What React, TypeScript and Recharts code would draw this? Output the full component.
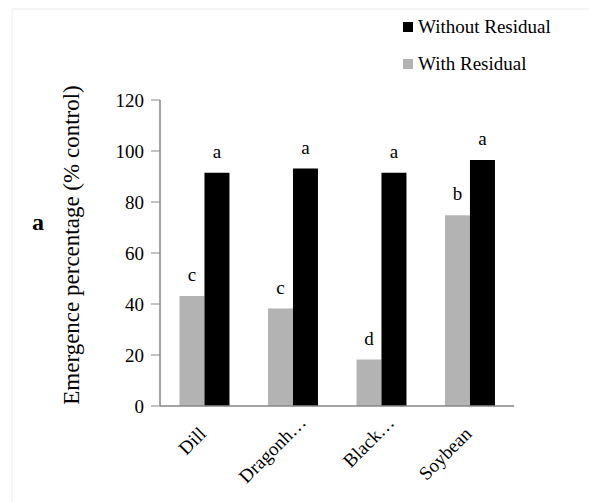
import React from 'react';
import { BarChart, Bar, XAxis, YAxis, Legend, LabelList, Customized } from 'recharts';

const categories = ['Dill', 'Dragonh…', 'Black…', 'Soybean'];
const withResidual = [43.1, 38.2, 18.2, 74.8];
const withoutResidual = [91.5, 93.1, 91.5, 96.5];
const withLetters = ['c', 'c', 'd', 'b'];
const withoutLetters = ['a', 'a', 'a', 'a'];
const yTicks = [0, 20, 40, 60, 80, 100, 120];
const boundaryTicks = [0, 1, 2, 3, 4];

const data = categories.map((name, i) => ({
  name,
  withR: withResidual[i],
  withoutR: withoutResidual[i],
  withL: withLetters[i],
  withoutL: withoutLetters[i],
}));

const FONT = '"Liberation Serif", "Times New Roman", serif';
const AXIS = '#868686';
const GREY = '#b3b3b3';

const XTick = (props: any) => {
  const { x, y, payload } = props;
  const tx = x + 3;
  const ty = y + 21;
  const label = String(payload.value);
  const shift = label.endsWith('…') ? 16 : 0;
  return (
    <text
      x={tx + shift}
      y={ty}
      transform={`rotate(-45, ${tx}, ${ty})`}
      textAnchor="end"
      style={{ fontFamily: FONT, fontSize: 19 }}
      fill="#000"
    >
      {label}
    </text>
  );
};

const YTick = (props: any) => {
  const { x, y, payload } = props;
  return (
    <text
      x={x}
      y={y}
      dy="0.35em"
      textAnchor="end"
      style={{ fontFamily: FONT, fontSize: 19 }}
      fill="#000"
    >
      {payload.value}
    </text>
  );
};

const LegendContent = () => {
  const items = [
    { label: 'Without Residual', color: '#000' },
    { label: 'With Residual', color: GREY },
  ];
  return (
    <div style={{ fontFamily: FONT, fontSize: 19, color: '#000' }}>
      {items.map((it) => (
        <div key={it.label} style={{ display: 'flex', alignItems: 'center', height: 36.5 }}>
          <span style={{ display: 'inline-block', width: 10, height: 10, background: it.color, marginRight: 5 }} />
          <span>{it.label}</span>
        </div>
      ))}
    </div>
  );
};

const YTitle = (props: any) => {
  const vb = props.viewBox || {};
  const cx = vb.x - 29;
  const cy = vb.y + vb.height / 2 - 8;
  return (
    <g>
      <text
        x={cx}
        y={cy}
        transform={`rotate(-90, ${cx}, ${cy})`}
        textAnchor="middle"
        dominantBaseline="central"
        style={{ fontFamily: FONT, fontSize: 23 }}
        fill="#000"
      >
        Emergence percentage (% control)
      </text>
      <text x={vb.x - 68} y={230} style={{ fontFamily: FONT, fontSize: 24, fontWeight: 'bold' }} fill="#000">
        a
      </text>
    </g>
  );
};

const Frame = () => (
  <g>
    <line x1={12} y1={9} x2={589} y2={9} stroke="#ececec" strokeWidth={1} />
    <line x1={12} y1={9} x2={12} y2={502} stroke="#ececec" strokeWidth={1} />
  </g>
);

export default function App() {
  return (
    <div style={{ position: 'absolute', left: 0, top: 0, background: '#fff' }}>
      <BarChart
        width={589}
        height={502}
        data={data}
        margin={{ top: 100, right: 75, bottom: 36, left: 100 }}
        barCategoryGap="22%"
        barGap={0}
      >
        <Customized component={Frame} />
        <XAxis
          xAxisId="grid"
          type="number"
          domain={[0, 4]}
          ticks={boundaryTicks}
          allowDataOverflow
          height={0}
          tick={false}
          tickSize={6}
          axisLine={false}
          tickLine={{ stroke: AXIS }}
        />
        <XAxis
          dataKey="name"
          height={60}
          axisLine={{ stroke: AXIS, strokeWidth: 1.5 }}
          tickLine={false}
          tick={<XTick />}
          interval={0}
        />
        <YAxis
          domain={[0, 120]}
          ticks={yTicks}
          width={60}
          axisLine={{ stroke: AXIS, strokeWidth: 1.5 }}
          tickLine={{ stroke: AXIS }}
          tickSize={9}
          tickMargin={7}
          tick={<YTick />}
          label={<YTitle />}
        />
        <Legend
          layout="vertical"
          align="center"
          verticalAlign="middle"
          content={<LegendContent />}
          wrapperStyle={{ position: 'absolute', top: 9, left: 403, width: 186, height: 80 }}
        />
        <Bar dataKey="withR" name="With Residual" fill={GREY} isAnimationActive={false}>
          <LabelList dataKey="withL" position="top" offset={15} style={{ fontFamily: FONT, fontSize: 19 }} fill="#000" />
        </Bar>
        <Bar dataKey="withoutR" name="Without Residual" fill="#000" isAnimationActive={false}>
          <LabelList dataKey="withoutL" position="top" offset={15} style={{ fontFamily: FONT, fontSize: 19 }} fill="#000" />
        </Bar>
      </BarChart>
    </div>
  );
}
